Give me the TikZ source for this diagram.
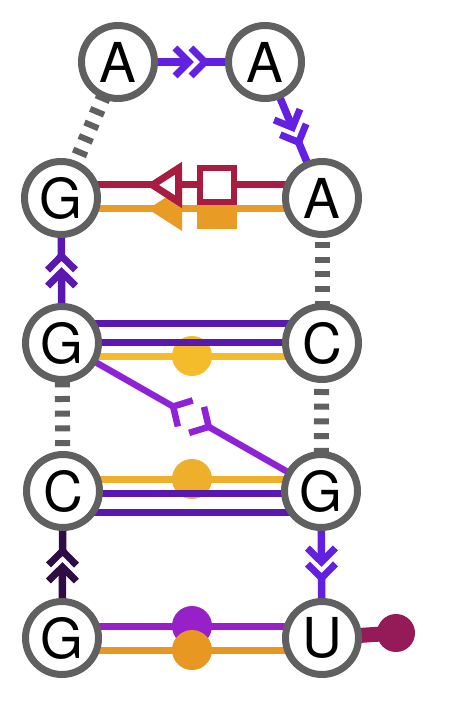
\documentclass[tikz,border=0pt]{standalone}
\usepackage{fontspec}
\setmainfont{TeX Gyre Heros}
\usetikzlibrary{backgrounds,decorations.markings}
\definecolor{nodegray}{HTML}{606060}
\definecolor{vpurple}{HTML}{6420E0}
\definecolor{deeppurple}{HTML}{5A18B0}
\definecolor{darkplum}{HTML}{2E0D45}
\definecolor{diagpurple}{HTML}{8F22D6}
\definecolor{brightpurple}{HTML}{9820C8}
\definecolor{crimson}{HTML}{A81C42}
\definecolor{orangeA}{HTML}{E89C25}
\definecolor{orangeB}{HTML}{EEAF2A}
\definecolor{orangeC}{HTML}{E89722}
\definecolor{yellowA}{HTML}{F4BC2B}
\definecolor{magentaA}{HTML}{941B58}
\tikzset{
  base/.style={circle,draw=nodegray,line width=7pt,fill=white,minimum size=73pt,inner sep=0pt,font=\fontsize{55}{60}\selectfont},
  bond/.style={line width=7pt,draw=#1},
  dot/.style={circle,fill=#1,minimum size=40pt,inner sep=0pt},
  stacked/.style={line width=15pt,draw=nodegray,dash pattern=on 6pt off 8.7pt,dash phase=#1},
  chevlink/.style={line width=7.5pt,draw=#1,dash pattern=on 71pt off 16pt on 400pt,
    postaction={decorate},
    decoration={markings,
      mark=at position 71pt with {\draw[#1,solid,line width=7pt] (-14pt,14pt)--(0pt,0pt)--(-14pt,-14pt);},
      mark=at position 87pt with {\draw[#1,solid,line width=7pt] (-14pt,14pt)--(0pt,0pt)--(-14pt,-14pt);}}},
  forklink/.style={line width=6.5pt,draw=#1,dash pattern=on 128pt off 41pt on 400pt,
    postaction={decorate},
    decoration={markings,
      mark=at position 128pt with {\draw[#1,solid,line width=6.5pt] (14pt,15pt)--(0pt,0pt)--(14pt,-15pt);},
      mark=at position 169pt with {\draw[#1,solid,line width=6.5pt] (-14pt,15pt)--(0pt,0pt)--(-14pt,-15pt);}}},
  sqmark/.style={rectangle,inner sep=0pt,minimum size=#1},
}
\begin{document}
\begin{tikzpicture}[x=1pt,y=-1pt]
\useasboundingbox (0,0) rectangle (450,708);
\node[base] (a1) at (118,62) {A};
\node[base] (a2) at (265,62) {A};
\node[base] (g1) at (61,198) {G};
\node[base] (a3) at (322,198) {A};
\node[base] (g2) at (62,343) {G};
\node[base] (c1) at (322,343) {C};
\node[base] (c2) at (63,491) {C};
\node[base] (g3) at (321,491) {G};
\node[base] (g4) at (62,638) {G};
\node[base] (u1) at (322,638) {U};
\begin{pgfonlayer}{background}
  % backbone arrows
  \draw[chevlink=vpurple] (a1.center) -- (a2.center);
  \draw[chevlink=vpurple] (a2.center) -- (a3.center);
  \draw[chevlink=deeppurple] (g2.center) -- (g1.center);
  \draw[chevlink=darkplum] (g4.center) -- (c2.center);
  \draw[chevlink=vpurple] (g3.center) -- (u1.center);
  % stacking
  \draw[stacked=7.8pt] (a1.center) -- (g1.center);
  \draw[stacked=0.1pt] (a3.center) -- (c1.center);
  \draw[stacked=5.8pt] (g2.center) -- (c2.center);
  \draw[stacked=12.8pt] (c1.center) -- (g3.center);
  % A-A row
  \draw[bond=orangeA] ([yshift=-11pt]g1.center) -- ([yshift=-11pt]a3.center);
  \node[sqmark=40pt,fill=orangeA] (sq2) at (217,209) {};
  \fill[orangeA] (148,209) -- (182,187) -- (182,231) -- cycle;
  \draw[bond=crimson] ([yshift=13pt]g1.center) -- ([yshift=13pt]a3.center);
  \draw[crimson,line width=7pt,fill=white,miter limit=10] (152.5,185) -- (178.5,168.2) -- (178.5,201.8) -- cycle;
  \node[sqmark=34pt,draw=crimson,line width=6pt,fill=white] (sq1) at (217,185) {};
  % G-C row
  \draw[bond=yellowA] ([yshift=-13pt]g2.center) -- ([yshift=-13pt]c1.center);
  \node[dot=yellowA] (d1) at (192,356) {};
  \draw[bond=deeppurple] ([yshift=20pt]g2.center) -- ([yshift=20pt]c1.center);
  \draw[bond=deeppurple] ([yshift=1pt]g2.center) -- ([yshift=1pt]c1.center);
  % C-G row
  \draw[bond=orangeB] ([yshift=12pt]c2.center) -- ([yshift=12pt]g3.center);
  \node[dot=orangeB] (d2) at (192,479) {};
  \draw[bond=deeppurple] ([yshift=-2pt]c2.center) -- ([yshift=-2pt]g3.center);
  \draw[bond=deeppurple] ([yshift=-21pt]c2.center) -- ([yshift=-21pt]g3.center);
  % G-U row
  \draw[bond=brightpurple] ([yshift=12pt]g4.center) -- ([yshift=12pt]u1.center);
  \node[dot=brightpurple] (d3) at (192,626) {};
  \draw[bond=orangeC] ([yshift=-12pt]g4.center) -- ([yshift=-12pt]u1.center);
  \node[dot=orangeC] (d4) at (192,650) {};
  % diagonal
  \draw[forklink=diagpurple] (g2.center) -- (g3.center);
  % pendant
  \node[circle,fill=magentaA,minimum size=38pt,inner sep=0pt] (d5) at (396,633) {};
  \draw[line width=15pt,draw=magentaA] (u1.center) -- (d5.center);
\end{pgfonlayer}
\end{tikzpicture}
\end{document}
